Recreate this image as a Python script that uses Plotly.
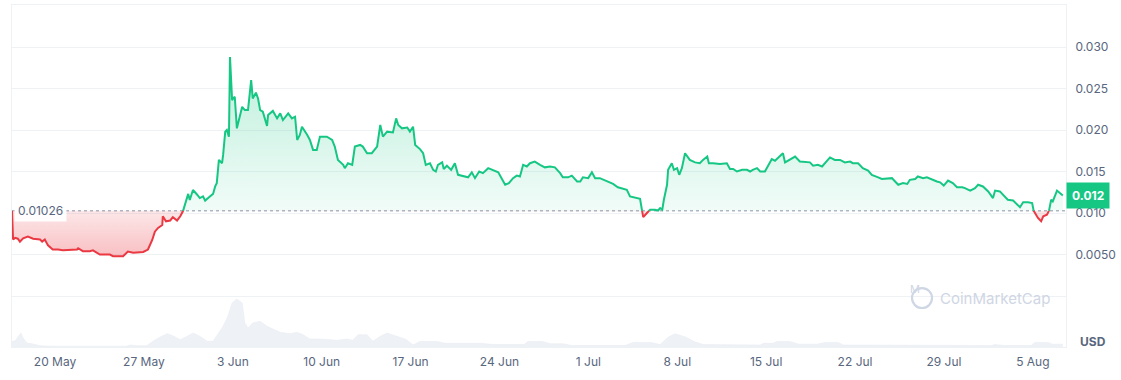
import numpy as np
import pandas as pd
import plotly.graph_objects as go

# ---------------- data ----------------
START = "2024-05-16 14:40"
BASELINE = 0.01026
LAST_PRICE_LABEL = "0.012"

price_hours = [0, 2, 6, 11, 15, 21, 30, 40, 53, 57, 62, 68, 77, 87, 96, 110, 123, 125, 134, 147,
               153, 166, 185, 191, 210, 219, 229, 248, 257, 265, 270, 276, 284, 285, 291, 299, 304, 312, 318, 323,
               327, 331, 333, 336, 342, 350, 355, 361, 365, 374, 380, 384, 387, 391, 397, 399, 403, 406, 410, 412,
               416, 418, 421, 425, 429, 435, 440, 446, 452, 455, 461, 465, 469, 474, 482, 484, 493, 501, 507, 512,
               522, 529, 535, 539, 544, 548, 558, 563, 569, 576, 582, 595, 605, 610, 616, 626, 629, 635, 643, 648,
               658, 663, 671, 680, 690, 696, 701, 709, 720, 726, 730, 737, 747, 752, 758, 762, 771, 777, 782, 790,
               796, 801, 805, 813, 816, 822, 830, 837, 843, 852, 862, 869, 875, 883, 890, 900, 909, 919, 926, 932,
               939, 947, 954, 960, 966, 973, 979, 988, 998, 1007, 1017, 1026, 1036, 1041, 1051, 1058, 1068, 1074, 1079, 1089,
               1096, 1102, 1111, 1121, 1130, 1136, 1145, 1155, 1162, 1168, 1174, 1181, 1187, 1191, 1193, 1200, 1206, 1215, 1221, 1225,
               1229, 1232, 1238, 1240, 1247, 1251, 1257, 1261, 1266, 1272, 1276, 1281, 1291, 1300, 1306, 1314, 1317, 1325, 1338, 1351,
               1357, 1363, 1370, 1380, 1389, 1395, 1400, 1408, 1414, 1423, 1429, 1436, 1442, 1452, 1457, 1461, 1467, 1474, 1480, 1489,
               1499, 1508, 1514, 1523, 1531, 1537, 1546, 1555, 1565, 1574, 1584, 1589, 1599, 1608, 1618, 1625, 1631, 1637, 1644, 1654,
               1663, 1669, 1675, 1684, 1692, 1697, 1707, 1712, 1722, 1729, 1739, 1748, 1754, 1761, 1769, 1778, 1786, 1796, 1801, 1811,
               1820, 1826, 1835, 1845, 1854, 1858, 1867, 1873, 1882, 1892, 1899, 1905, 1911, 1920, 1928, 1930, 1935, 1939, 1945, 1949,
               1956, 1960, 1964, 1967, 1975, 1981, 1986]

price_usd = [0.01026, 0.0068, 0.0070, 0.0069, 0.00655, 0.00695, 0.00715, 0.0069, 0.0068, 0.00655,
             0.0068, 0.0061, 0.0056, 0.0056, 0.0055, 0.00555, 0.0056, 0.00575, 0.0054, 0.0054,
             0.0055, 0.0050, 0.0050, 0.0048, 0.0048, 0.00535, 0.0052, 0.0053, 0.0056, 0.00675,
             0.00775, 0.0082, 0.00855, 0.0096, 0.0090, 0.0091, 0.0095, 0.0091, 0.0096, 0.0102,
             0.0110, 0.0120, 0.0123, 0.01157, 0.01277, 0.0122, 0.0118, 0.0120, 0.0115, 0.0120,
             0.0123, 0.0132, 0.0136, 0.0164, 0.0160, 0.0170, 0.0198, 0.0200, 0.0192, 0.0288,
             0.0236, 0.0238, 0.0240, 0.0202, 0.0212, 0.0228, 0.0224, 0.0224, 0.0260, 0.0238,
             0.0245, 0.0238, 0.0224, 0.0222, 0.0205, 0.0218, 0.0223, 0.0214, 0.0220, 0.0212,
             0.0220, 0.0214, 0.0216, 0.0188, 0.0194, 0.0204, 0.0194, 0.0188, 0.0176, 0.0176,
             0.0192, 0.0192, 0.0188, 0.0180, 0.0164, 0.0158, 0.0154, 0.0160, 0.0158, 0.0180,
             0.0182, 0.0180, 0.0172, 0.0172, 0.0180, 0.0206, 0.0192, 0.0198, 0.0197, 0.0214,
             0.0206, 0.0202, 0.0203, 0.0198, 0.0204, 0.0182, 0.0177, 0.0172, 0.0158, 0.0160,
             0.0152, 0.0150, 0.0158, 0.0161, 0.0153, 0.0157, 0.0152, 0.0160, 0.0146, 0.0145,
             0.0143, 0.0149, 0.0142, 0.0150, 0.0148, 0.0154, 0.0152, 0.0149, 0.0141, 0.0134,
             0.0136, 0.0142, 0.0145, 0.0144, 0.0158, 0.0156, 0.0160, 0.0162, 0.0158, 0.0155,
             0.0156, 0.0155, 0.0148, 0.0143, 0.0143, 0.0145, 0.0138, 0.0138, 0.0143, 0.0142,
             0.0149, 0.0142, 0.0142, 0.0139, 0.0136, 0.0135, 0.0131, 0.0129, 0.0128, 0.0120,
             0.0119, 0.0118, 0.0117, 0.0102, 0.0095, 0.0100, 0.0104, 0.0104, 0.0103, 0.0106,
             0.0104, 0.0116, 0.0134, 0.0152, 0.0160, 0.0152, 0.0154, 0.0146, 0.0154, 0.0172,
             0.0168, 0.0164, 0.0161, 0.0160, 0.0164, 0.0168, 0.0160, 0.0160, 0.0159, 0.0160,
             0.0153, 0.0153, 0.0150, 0.0152, 0.0152, 0.0150, 0.0152, 0.0154, 0.0150, 0.0150,
             0.0157, 0.0165, 0.0163, 0.0169, 0.0172, 0.0161, 0.0163, 0.0165, 0.0168, 0.0162,
             0.0161, 0.0161, 0.0157, 0.0158, 0.0156, 0.0160, 0.0167, 0.0164, 0.0164, 0.0161,
             0.0162, 0.0160, 0.0160, 0.0154, 0.0151, 0.0146, 0.0144, 0.0143, 0.0141, 0.0142,
             0.0142, 0.0138, 0.0134, 0.0136, 0.0135, 0.0140, 0.0141, 0.0144, 0.0142, 0.0143,
             0.0140, 0.0138, 0.0137, 0.0133, 0.0139, 0.0136, 0.0131, 0.0131, 0.0130, 0.0127,
             0.0130, 0.0134, 0.0132, 0.0126, 0.0118, 0.0127, 0.0126, 0.0122, 0.0116, 0.0115,
             0.0110, 0.0107, 0.0113, 0.0113, 0.0112, 0.01036, 0.0098, 0.0094, 0.0090, 0.0096,
             0.0098, 0.0103, 0.0116, 0.0114, 0.0127, 0.0124, 0.0121]

volume_hours = [0, 6, 11, 17, 21, 28, 40, 53, 72, 129, 217, 223, 236, 255, 266, 280, 293, 304, 318, 331,
                342, 355, 369, 380, 389, 399, 408, 416, 425, 435, 440, 446, 455, 469, 482, 493, 507, 525, 539, 550,
                563, 582, 601, 614, 633, 644, 654, 671, 682, 696, 709, 728, 745, 758, 771, 803, 818, 885, 911, 968,
                975, 1002, 1017, 1041, 1058, 1159, 1174, 1208, 1225, 1240, 1253, 1274, 1289, 1306, 1355, 1372, 1414, 1421, 1438, 1446,
                1470, 1487, 1521, 1537, 1561, 1571, 1603, 1620, 1850, 1858, 1875, 1926, 1933, 1958, 1966, 1986]

volume_rel = [5.7, 6, 10, 14, 9, 4, 3, 1.3, 0.8, 0.8, 0.8, 2, 1.3, 1.3, 5.7, 10, 13.3, 11.3, 7.3, 10.7,
              14, 10.7, 5.7, 5.7, 12.3, 20.7, 30.7, 44, 48, 44, 24, 19, 24, 25.7, 20.7, 18, 14.7, 13.3, 14.7, 12.3,
              8, 8, 7.3, 6.7, 8, 6.7, 12.3, 12.3, 5.7, 10.7, 14, 10.7, 7.6, 2, 5.5, 5.5, 3.7, 3.7, 2.4, 2.4,
              5.5, 5.5, 3.3, 3.3, 1.5, 1.5, 4.6, 4.6, 2.4, 9.8, 13.3, 9.8, 5.5, 2.4, 2.4, 2, 2, 3.7, 3.7, 5.5,
              5.5, 2.8, 2.8, 4.6, 4.6, 2, 2, 1.5, 1.5, 2.4, 1.5, 1.5, 4.6, 4.6, 2.8, 2.8]

y_tick_values = [0.005, 0.010, 0.015, 0.020, 0.025, 0.030]
y_tick_labels = ["0.0050", "0.010", "0.015", "0.020", "0.025", "0.030"]
x_tick_dates = ["2024-05-20", "2024-05-27", "2024-06-03", "2024-06-10", "2024-06-17", "2024-06-24",
                "2024-07-01", "2024-07-08", "2024-07-15", "2024-07-22", "2024-07-29", "2024-08-05"]
x_tick_labels = ["20 May", "27 May", "3 Jun", "10 Jun", "17 Jun", "24 Jun",
                 "1 Jul", "8 Jul", "15 Jul", "22 Jul", "29 Jul", "5 Aug"]

# ---------------- styling ----------------
GREEN = "#16c784"
RED = "#ea3943"
GRID = "#eff2f5"
TXT = "#58667e"
WM = "#cfd6e4"
FONT = "Inter, Roboto, sans-serif"

t0 = pd.Timestamp(START)
END_HOURS = 1992

# insert baseline crossings so the line can switch colour exactly on the baseline
h = np.array(price_hours, dtype=float)
v = np.array(price_usd, dtype=float)
hx, vy = [], []
for i in range(len(v)):
    if i > 0 and (v[i - 1] - BASELINE) * (v[i] - BASELINE) < 0:
        f = (BASELINE - v[i - 1]) / (v[i] - v[i - 1])
        hx.append(h[i - 1] + f * (h[i] - h[i - 1]))
        vy.append(BASELINE)
    hx.append(h[i])
    vy.append(v[i])
hx = np.array(hx)
vy = np.array(vy)
tx = t0 + pd.to_timedelta(hx, unit="h")

up = np.maximum(vy, BASELINE)
dn = np.minimum(vy, BASELINE)
green_line = np.where(vy >= BASELINE - 1e-12, vy, np.nan)
red_line = np.where(vy <= BASELINE + 1e-12, vy, np.nan)
base_arr = np.full(len(vy), BASELINE)

vt = t0 + pd.to_timedelta(np.array(volume_hours, dtype=float), unit="h")

fig = go.Figure()

# volume (secondary axis, drawn first)
fig.add_trace(go.Scatter(x=vt, y=volume_rel, yaxis="y2", mode="lines", line=dict(width=0.5, color="#e6eaf0"),
                         fill="tozeroy", fillcolor="rgba(222,227,236,0.5)", hoverinfo="skip", showlegend=False))

# green fill
fig.add_trace(go.Scatter(x=tx, y=base_arr, mode="lines", line=dict(width=0), hoverinfo="skip", showlegend=False))
fig.add_trace(go.Scatter(x=tx, y=up, mode="lines", line=dict(width=0), fill="tonexty",
                         fillgradient=dict(type="vertical", start=BASELINE, stop=0.030,
                                           colorscale=[[0, "rgba(22,199,132,0.06)"], [1, "rgba(22,199,132,0.30)"]]),
                         hoverinfo="skip", showlegend=False))
# red fill
fig.add_trace(go.Scatter(x=tx, y=base_arr, mode="lines", line=dict(width=0), hoverinfo="skip", showlegend=False))
fig.add_trace(go.Scatter(x=tx, y=dn, mode="lines", line=dict(width=0), fill="tonexty",
                         fillgradient=dict(type="vertical", start=0.0048, stop=BASELINE,
                                           colorscale=[[0, "rgba(234,57,67,0.32)"], [1, "rgba(234,57,67,0.12)"]]),
                         hoverinfo="skip", showlegend=False))

# dotted baseline
fig.add_trace(go.Scatter(x=[t0, t0 + pd.Timedelta(hours=END_HOURS)], y=[BASELINE, BASELINE], mode="lines",
                         line=dict(color="#8a93a6", width=1, dash="dot"), hoverinfo="skip", showlegend=False))

# price lines
fig.add_trace(go.Scatter(x=tx, y=green_line, mode="lines", line=dict(color=GREEN, width=2), connectgaps=False,
                         showlegend=False))
fig.add_trace(go.Scatter(x=tx, y=red_line, mode="lines", line=dict(color=RED, width=2), connectgaps=False,
                         showlegend=False))

y_lo, y_hi = -0.006145, 0.03506
vol_max = max(volume_rel)

fig.update_layout(
    width=1121, height=380,
    margin=dict(l=12, r=55, t=5, b=33),
    paper_bgcolor="white", plot_bgcolor="white",
    font=dict(family=FONT, size=12, color=TXT),
    showlegend=False,
    xaxis=dict(
        range=[t0, t0 + pd.Timedelta(hours=END_HOURS)],
        tickvals=pd.to_datetime(x_tick_dates), ticktext=x_tick_labels,
        showgrid=False, zeroline=False,
        showline=True, mirror=True, linecolor=GRID, linewidth=1,
        ticks="outside", ticklen=4, tickcolor="rgba(0,0,0,0)",
        tickfont=dict(size=12, color=TXT, family=FONT),
    ),
    yaxis=dict(
        side="right", range=[y_lo, y_hi],
        tickvals=[0.0] + y_tick_values, ticktext=[""] + y_tick_labels,
        showgrid=True, gridcolor=GRID, gridwidth=1, zeroline=False,
        showline=True, mirror=True, linecolor=GRID, linewidth=1,
        ticks="outside", ticklen=6, tickcolor="rgba(0,0,0,0)",
        tickfont=dict(size=12, color=TXT, family=FONT),
    ),
    yaxis2=dict(overlaying="y", range=[0, vol_max * 342 / 48], visible=False, fixedrange=True),
)

# left baseline label
fig.add_annotation(x=0, xref="paper", xanchor="left", xshift=2, y=BASELINE, yref="y", yanchor="middle",
                   text=str(BASELINE), showarrow=False, bgcolor="rgba(255,255,255,0.92)", borderpad=3,
                   font=dict(size=12, color=TXT, family=FONT))

# current price badge
fig.add_annotation(x=1, xref="paper", xanchor="left", y=price_usd[-1], yref="y", yanchor="middle",
                   text="<b>" + LAST_PRICE_LABEL + "</b>", showarrow=False, bgcolor=GREEN, borderpad=5,
                   font=dict(size=12, color="white", family=FONT))

# USD label
fig.add_annotation(x=1, xref="paper", xanchor="left", xshift=12, y=0, yref="paper", yanchor="bottom", yshift=-4,
                   text="<b>USD</b>", showarrow=False, font=dict(size=12, color=TXT, family=FONT))

# watermark
fig.add_shape(type="circle", xref="paper", yref="paper", x0=0.8539, x1=0.8729, y0=0.114, y1=0.172,
              line=dict(color=WM, width=2.2), layer="above")
fig.add_annotation(x=0.8634, xref="paper", y=0.143, yref="paper", text="M", showarrow=False,
                   font=dict(size=11, color=WM, family=FONT))
fig.add_annotation(x=0.8786, xref="paper", xanchor="left", y=0.143, yref="paper", yanchor="middle",
                   text="CoinMarketCap", showarrow=False, font=dict(size=15, color=WM, family=FONT))

fig.write_html("out.html", config={"displayModeBar": False},
               post_script="document.body.style.margin='0';document.body.style.padding='0';")
